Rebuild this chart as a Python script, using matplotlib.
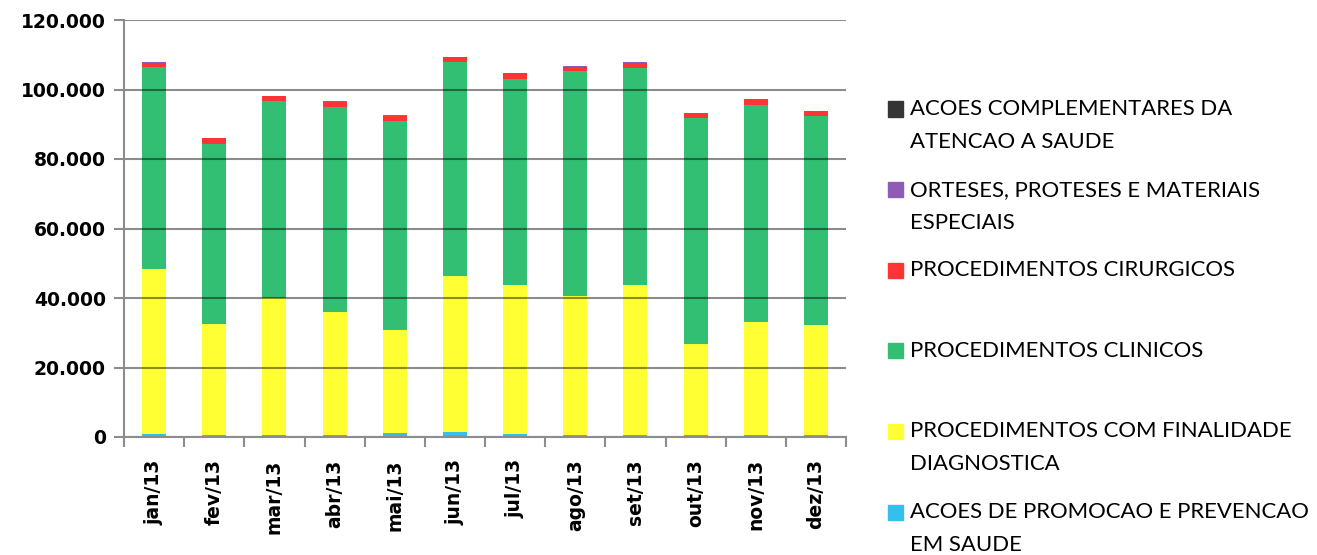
import matplotlib
matplotlib.use("Agg")
import matplotlib.pyplot as plt
import numpy as np
from matplotlib.ticker import FuncFormatter, FixedLocator
from matplotlib.patches import Rectangle

plt.rcParams['font.family'] = ['Lato', 'DejaVu Sans']

# dados
meses = ['jan/13', 'fev/13', 'mar/13', 'abr/13', 'mai/13', 'jun/13',
         'jul/13', 'ago/13', 'set/13', 'out/13', 'nov/13', 'dez/13']

promocao = [750, 460, 700, 700, 1240, 1330, 950, 450, 450, 450, 550, 450]
diagnostica = [47550, 31940, 39200, 35200, 29460, 44870, 42850, 40150, 43250, 26350, 32550, 31750]
clinicos = [58100, 51900, 56800, 59000, 60200, 61600, 59100, 64700, 62500, 65000, 62400, 60300]
cirurgicos = [1200, 1650, 1400, 1600, 1500, 1500, 1800, 1200, 1400, 1400, 1700, 1300]
orteses = [300, 100, 100, 100, 200, 150, 150, 300, 300, 100, 100, 100]
complementares = [20, 10, 10, 10, 10, 10, 10, 10, 10, 10, 10, 10]

series = ['ACOES DE PROMOCAO E PREVENCAO\nEM SAUDE',
          'PROCEDIMENTOS COM FINALIDADE\nDIAGNOSTICA',
          'PROCEDIMENTOS CLINICOS',
          'PROCEDIMENTOS CIRURGICOS',
          'ORTESES, PROTESES E MATERIAIS\nESPECIAIS',
          'ACOES COMPLEMENTARES DA\nATENCAO A SAUDE']
cores = ['#35bfee', '#ffff33', '#33bf73', '#ff3535', '#8e5bb5', '#353535']
valores = [promocao, diagnostica, clinicos, cirurgicos, orteses, complementares]

fig = plt.figure(figsize=(13.17, 5.55), dpi=100)
ax = fig.add_axes([124 / 1317, 1 - 437 / 555, 722 / 1317, 417 / 555])

x = np.arange(len(meses))
base = np.zeros(len(meses))
for vals, cor in zip(valores, cores):
    ax.bar(x, vals, width=0.4, bottom=base, color=cor, zorder=2)
    base += np.array(vals)

ax.set_ylim(0, 120000)
ax.set_xlim(-0.5, len(meses) - 0.5)
ax.set_yticks(np.arange(0, 120001, 20000))
ax.yaxis.set_major_formatter(FuncFormatter(lambda v, p: f"{int(v):,}".replace(",", ".")))
ax.yaxis.grid(True, color='black', alpha=0.45, linewidth=1.5, zorder=3)
ax.set_axisbelow(False)

fonte_eixo = dict(family='DejaVu Sans', fontweight='bold', fontsize=13.5)
ax.set_xticks(x)
ax.set_xticklabels(meses, rotation=90, **fonte_eixo)
ax.xaxis.set_minor_locator(FixedLocator(np.arange(-0.5, len(meses), 1)))
ax.tick_params(axis='x', which='major', length=0, pad=16)
ax.tick_params(axis='x', which='minor', length=7, width=1.5, color='#8c8c8c')
ax.tick_params(axis='y', length=7, width=1.5, color='#8c8c8c', pad=6)
for lbl in ax.get_yticklabels():
    lbl.set_family('DejaVu Sans')
    lbl.set_fontweight('bold')
    lbl.set_fontsize(13.5)

for s in ['top', 'right']:
    ax.spines[s].set_visible(False)
for s in ['left', 'bottom']:
    ax.spines[s].set_color('#8c8c8c')
    ax.spines[s].set_linewidth(1.5)
    ax.spines[s].set_zorder(4)

# legenda manual
W, H = 1317, 555
y0, passo = 109, 80.6
for i, (nome, cor) in enumerate(zip(series[::-1], cores[::-1])):
    yc = y0 + i * passo
    fig.add_artist(Rectangle((888 / W, 1 - (yc + 7.5) / H), 15 / W, 15 / H,
                             transform=fig.transFigure, color=cor))
    for j, linha in enumerate(nome.split('\n')):
        fig.text(910 / W, 1 - (yc + j * 33) / H, linha, fontsize=15.9,
                 va='center', ha='left', color='black')

fig.savefig('out.png', dpi=100)
